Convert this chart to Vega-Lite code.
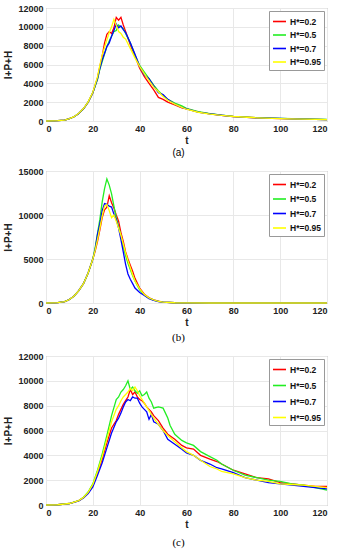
{
  "$schema": "https://vega.github.io/schema/vega-lite/v6.json",
  "padding": {"left": 3, "top": 3, "right": 4, "bottom": 0},
  "spacing": 7,
  "datasets": {
    "a": [
      {"s":"H*=0.2","t":0,"v":0},{"s":"H*=0.2","t":5,"v":30},{"s":"H*=0.2","t":8,"v":100},{"s":"H*=0.2","t":10,"v":250},{"s":"H*=0.2","t":12,"v":450},{"s":"H*=0.2","t":14,"v":800},{"s":"H*=0.2","t":16,"v":1300},{"s":"H*=0.2","t":18,"v":2000},{"s":"H*=0.2","t":20,"v":3000},{"s":"H*=0.2","t":22,"v":4600},{"s":"H*=0.2","t":23,"v":5800},{"s":"H*=0.2","t":24,"v":6900},{"s":"H*=0.2","t":25,"v":8300},{"s":"H*=0.2","t":26,"v":9200},{"s":"H*=0.2","t":27,"v":9500},{"s":"H*=0.2","t":28,"v":9300},{"s":"H*=0.2","t":29,"v":9900},{"s":"H*=0.2","t":30,"v":11000},{"s":"H*=0.2","t":31,"v":10700},{"s":"H*=0.2","t":32,"v":11000},{"s":"H*=0.2","t":33,"v":10200},{"s":"H*=0.2","t":34,"v":9500},{"s":"H*=0.2","t":36,"v":8100},{"s":"H*=0.2","t":38,"v":6900},{"s":"H*=0.2","t":40,"v":5600},{"s":"H*=0.2","t":42,"v":4700},{"s":"H*=0.2","t":44,"v":4000},{"s":"H*=0.2","t":46,"v":3300},{"s":"H*=0.2","t":48,"v":2500},{"s":"H*=0.2","t":50,"v":2300},{"s":"H*=0.2","t":52,"v":2000},{"s":"H*=0.2","t":55,"v":1700},{"s":"H*=0.2","t":58,"v":1400},{"s":"H*=0.2","t":60,"v":1300},{"s":"H*=0.2","t":65,"v":950},{"s":"H*=0.2","t":70,"v":750},{"s":"H*=0.2","t":75,"v":600},{"s":"H*=0.2","t":80,"v":480},{"s":"H*=0.2","t":90,"v":340},{"s":"H*=0.2","t":100,"v":260},{"s":"H*=0.2","t":110,"v":200},{"s":"H*=0.2","t":120,"v":150},
      {"s":"H*=0.5","t":0,"v":0},{"s":"H*=0.5","t":5,"v":30},{"s":"H*=0.5","t":8,"v":100},{"s":"H*=0.5","t":10,"v":250},{"s":"H*=0.5","t":12,"v":450},{"s":"H*=0.5","t":14,"v":800},{"s":"H*=0.5","t":16,"v":1300},{"s":"H*=0.5","t":18,"v":2000},{"s":"H*=0.5","t":20,"v":3000},{"s":"H*=0.5","t":22,"v":4400},{"s":"H*=0.5","t":23,"v":5500},{"s":"H*=0.5","t":24,"v":6300},{"s":"H*=0.5","t":25,"v":7100},{"s":"H*=0.5","t":26,"v":7900},{"s":"H*=0.5","t":27,"v":8500},{"s":"H*=0.5","t":28,"v":9000},{"s":"H*=0.5","t":29,"v":9500},{"s":"H*=0.5","t":30,"v":9600},{"s":"H*=0.5","t":31,"v":10200},{"s":"H*=0.5","t":32,"v":10000},{"s":"H*=0.5","t":33,"v":9800},{"s":"H*=0.5","t":34,"v":9300},{"s":"H*=0.5","t":36,"v":8300},{"s":"H*=0.5","t":38,"v":7000},{"s":"H*=0.5","t":40,"v":5900},{"s":"H*=0.5","t":42,"v":5200},{"s":"H*=0.5","t":44,"v":4500},{"s":"H*=0.5","t":46,"v":3800},{"s":"H*=0.5","t":48,"v":3200},{"s":"H*=0.5","t":50,"v":2700},{"s":"H*=0.5","t":52,"v":2300},{"s":"H*=0.5","t":55,"v":1900},{"s":"H*=0.5","t":58,"v":1600},{"s":"H*=0.5","t":60,"v":1350},{"s":"H*=0.5","t":65,"v":1000},{"s":"H*=0.5","t":70,"v":780},{"s":"H*=0.5","t":75,"v":620},{"s":"H*=0.5","t":80,"v":500},{"s":"H*=0.5","t":90,"v":350},{"s":"H*=0.5","t":100,"v":270},{"s":"H*=0.5","t":110,"v":210},{"s":"H*=0.5","t":120,"v":160},
      {"s":"H*=0.7","t":0,"v":0},{"s":"H*=0.7","t":5,"v":30},{"s":"H*=0.7","t":8,"v":100},{"s":"H*=0.7","t":10,"v":250},{"s":"H*=0.7","t":12,"v":450},{"s":"H*=0.7","t":14,"v":800},{"s":"H*=0.7","t":16,"v":1300},{"s":"H*=0.7","t":18,"v":2000},{"s":"H*=0.7","t":20,"v":3000},{"s":"H*=0.7","t":22,"v":4500},{"s":"H*=0.7","t":23,"v":5600},{"s":"H*=0.7","t":24,"v":6500},{"s":"H*=0.7","t":25,"v":7200},{"s":"H*=0.7","t":26,"v":7900},{"s":"H*=0.7","t":27,"v":8300},{"s":"H*=0.7","t":28,"v":9000},{"s":"H*=0.7","t":29,"v":9600},{"s":"H*=0.7","t":30,"v":10300},{"s":"H*=0.7","t":31,"v":9900},{"s":"H*=0.7","t":32,"v":10100},{"s":"H*=0.7","t":33,"v":9700},{"s":"H*=0.7","t":34,"v":9400},{"s":"H*=0.7","t":36,"v":8300},{"s":"H*=0.7","t":38,"v":7100},{"s":"H*=0.7","t":40,"v":5800},{"s":"H*=0.7","t":42,"v":4900},{"s":"H*=0.7","t":44,"v":4500},{"s":"H*=0.7","t":46,"v":3700},{"s":"H*=0.7","t":48,"v":3000},{"s":"H*=0.7","t":50,"v":2800},{"s":"H*=0.7","t":52,"v":2300},{"s":"H*=0.7","t":55,"v":1800},{"s":"H*=0.7","t":58,"v":1450},{"s":"H*=0.7","t":60,"v":1300},{"s":"H*=0.7","t":65,"v":950},{"s":"H*=0.7","t":70,"v":760},{"s":"H*=0.7","t":75,"v":610},{"s":"H*=0.7","t":80,"v":470},{"s":"H*=0.7","t":90,"v":330},{"s":"H*=0.7","t":100,"v":280},{"s":"H*=0.7","t":110,"v":200},{"s":"H*=0.7","t":120,"v":150},
      {"s":"H*=0.95","t":0,"v":0},{"s":"H*=0.95","t":5,"v":30},{"s":"H*=0.95","t":8,"v":100},{"s":"H*=0.95","t":10,"v":250},{"s":"H*=0.95","t":12,"v":460},{"s":"H*=0.95","t":14,"v":810},{"s":"H*=0.95","t":16,"v":1320},{"s":"H*=0.95","t":18,"v":2030},{"s":"H*=0.95","t":20,"v":3050},{"s":"H*=0.95","t":22,"v":4700},{"s":"H*=0.95","t":23,"v":5900},{"s":"H*=0.95","t":24,"v":7000},{"s":"H*=0.95","t":25,"v":7800},{"s":"H*=0.95","t":26,"v":8600},{"s":"H*=0.95","t":27,"v":9400},{"s":"H*=0.95","t":28,"v":10000},{"s":"H*=0.95","t":29,"v":10800},{"s":"H*=0.95","t":30,"v":10200},{"s":"H*=0.95","t":31,"v":9500},{"s":"H*=0.95","t":32,"v":9300},{"s":"H*=0.95","t":33,"v":8900},{"s":"H*=0.95","t":34,"v":8700},{"s":"H*=0.95","t":36,"v":7700},{"s":"H*=0.95","t":38,"v":6700},{"s":"H*=0.95","t":40,"v":5800},{"s":"H*=0.95","t":42,"v":5000},{"s":"H*=0.95","t":44,"v":4300},{"s":"H*=0.95","t":46,"v":3600},{"s":"H*=0.95","t":48,"v":3100},{"s":"H*=0.95","t":50,"v":2600},{"s":"H*=0.95","t":52,"v":2200},{"s":"H*=0.95","t":55,"v":1800},{"s":"H*=0.95","t":58,"v":1450},{"s":"H*=0.95","t":60,"v":1250},{"s":"H*=0.95","t":65,"v":930},{"s":"H*=0.95","t":70,"v":740},{"s":"H*=0.95","t":75,"v":600},{"s":"H*=0.95","t":80,"v":480},{"s":"H*=0.95","t":90,"v":340},{"s":"H*=0.95","t":100,"v":250},{"s":"H*=0.95","t":110,"v":190},{"s":"H*=0.95","t":120,"v":150}
    ],
    "b": [
      {"s":"H*=0.2","t":0,"v":0},{"s":"H*=0.2","t":5,"v":40},{"s":"H*=0.2","t":8,"v":150},{"s":"H*=0.2","t":10,"v":400},{"s":"H*=0.2","t":12,"v":800},{"s":"H*=0.2","t":14,"v":1400},{"s":"H*=0.2","t":16,"v":2200},{"s":"H*=0.2","t":18,"v":3400},{"s":"H*=0.2","t":20,"v":5000},{"s":"H*=0.2","t":21,"v":5900},{"s":"H*=0.2","t":22,"v":7000},{"s":"H*=0.2","t":23,"v":8300},{"s":"H*=0.2","t":24,"v":9700},{"s":"H*=0.2","t":25,"v":10600},{"s":"H*=0.2","t":26,"v":10900},{"s":"H*=0.2","t":27,"v":12200},{"s":"H*=0.2","t":28,"v":11400},{"s":"H*=0.2","t":29,"v":10800},{"s":"H*=0.2","t":30,"v":10000},{"s":"H*=0.2","t":31,"v":9300},{"s":"H*=0.2","t":32,"v":8000},{"s":"H*=0.2","t":33,"v":7000},{"s":"H*=0.2","t":34,"v":5800},{"s":"H*=0.2","t":35,"v":5000},{"s":"H*=0.2","t":36,"v":4300},{"s":"H*=0.2","t":37,"v":3600},{"s":"H*=0.2","t":38,"v":2800},{"s":"H*=0.2","t":40,"v":1700},{"s":"H*=0.2","t":42,"v":1000},{"s":"H*=0.2","t":44,"v":600},{"s":"H*=0.2","t":46,"v":350},{"s":"H*=0.2","t":48,"v":200},{"s":"H*=0.2","t":50,"v":110},{"s":"H*=0.2","t":55,"v":30},{"s":"H*=0.2","t":60,"v":8},{"s":"H*=0.2","t":70,"v":2},{"s":"H*=0.2","t":120,"v":0},
      {"s":"H*=0.5","t":0,"v":0},{"s":"H*=0.5","t":5,"v":40},{"s":"H*=0.5","t":8,"v":150},{"s":"H*=0.5","t":10,"v":400},{"s":"H*=0.5","t":12,"v":800},{"s":"H*=0.5","t":14,"v":1400},{"s":"H*=0.5","t":16,"v":2200},{"s":"H*=0.5","t":18,"v":3400},{"s":"H*=0.5","t":20,"v":5000},{"s":"H*=0.5","t":21,"v":6300},{"s":"H*=0.5","t":22,"v":7900},{"s":"H*=0.5","t":23,"v":9500},{"s":"H*=0.5","t":24,"v":11500},{"s":"H*=0.5","t":25,"v":13000},{"s":"H*=0.5","t":26,"v":14100},{"s":"H*=0.5","t":27,"v":13400},{"s":"H*=0.5","t":28,"v":12400},{"s":"H*=0.5","t":29,"v":11000},{"s":"H*=0.5","t":30,"v":9700},{"s":"H*=0.5","t":31,"v":8700},{"s":"H*=0.5","t":32,"v":7600},{"s":"H*=0.5","t":33,"v":6400},{"s":"H*=0.5","t":34,"v":5400},{"s":"H*=0.5","t":35,"v":4500},{"s":"H*=0.5","t":36,"v":3800},{"s":"H*=0.5","t":37,"v":3100},{"s":"H*=0.5","t":38,"v":2500},{"s":"H*=0.5","t":40,"v":1500},{"s":"H*=0.5","t":42,"v":900},{"s":"H*=0.5","t":44,"v":550},{"s":"H*=0.5","t":46,"v":330},{"s":"H*=0.5","t":48,"v":190},{"s":"H*=0.5","t":50,"v":100},{"s":"H*=0.5","t":55,"v":30},{"s":"H*=0.5","t":60,"v":8},{"s":"H*=0.5","t":70,"v":2},{"s":"H*=0.5","t":120,"v":0},
      {"s":"H*=0.7","t":0,"v":0},{"s":"H*=0.7","t":5,"v":40},{"s":"H*=0.7","t":8,"v":150},{"s":"H*=0.7","t":10,"v":400},{"s":"H*=0.7","t":12,"v":800},{"s":"H*=0.7","t":14,"v":1400},{"s":"H*=0.7","t":16,"v":2200},{"s":"H*=0.7","t":18,"v":3400},{"s":"H*=0.7","t":20,"v":5000},{"s":"H*=0.7","t":21,"v":6100},{"s":"H*=0.7","t":22,"v":7800},{"s":"H*=0.7","t":23,"v":9000},{"s":"H*=0.7","t":24,"v":10500},{"s":"H*=0.7","t":25,"v":11300},{"s":"H*=0.7","t":26,"v":11200},{"s":"H*=0.7","t":27,"v":11000},{"s":"H*=0.7","t":28,"v":10900},{"s":"H*=0.7","t":29,"v":10100},{"s":"H*=0.7","t":30,"v":9500},{"s":"H*=0.7","t":31,"v":8500},{"s":"H*=0.7","t":32,"v":7200},{"s":"H*=0.7","t":33,"v":5800},{"s":"H*=0.7","t":34,"v":4400},{"s":"H*=0.7","t":35,"v":3300},{"s":"H*=0.7","t":36,"v":2700},{"s":"H*=0.7","t":37,"v":2200},{"s":"H*=0.7","t":38,"v":1700},{"s":"H*=0.7","t":40,"v":1200},{"s":"H*=0.7","t":42,"v":850},{"s":"H*=0.7","t":44,"v":500},{"s":"H*=0.7","t":46,"v":300},{"s":"H*=0.7","t":48,"v":170},{"s":"H*=0.7","t":50,"v":90},{"s":"H*=0.7","t":55,"v":30},{"s":"H*=0.7","t":60,"v":8},{"s":"H*=0.7","t":70,"v":2},{"s":"H*=0.7","t":120,"v":0},
      {"s":"H*=0.95","t":0,"v":0},{"s":"H*=0.95","t":5,"v":40},{"s":"H*=0.95","t":8,"v":150},{"s":"H*=0.95","t":10,"v":400},{"s":"H*=0.95","t":12,"v":800},{"s":"H*=0.95","t":14,"v":1400},{"s":"H*=0.95","t":16,"v":2200},{"s":"H*=0.95","t":18,"v":3400},{"s":"H*=0.95","t":20,"v":5000},{"s":"H*=0.95","t":21,"v":6000},{"s":"H*=0.95","t":22,"v":7200},{"s":"H*=0.95","t":23,"v":8500},{"s":"H*=0.95","t":24,"v":9900},{"s":"H*=0.95","t":25,"v":11000},{"s":"H*=0.95","t":26,"v":11200},{"s":"H*=0.95","t":27,"v":10500},{"s":"H*=0.95","t":28,"v":9700},{"s":"H*=0.95","t":29,"v":10000},{"s":"H*=0.95","t":30,"v":9300},{"s":"H*=0.95","t":31,"v":8500},{"s":"H*=0.95","t":32,"v":7700},{"s":"H*=0.95","t":33,"v":6700},{"s":"H*=0.95","t":34,"v":5700},{"s":"H*=0.95","t":35,"v":4800},{"s":"H*=0.95","t":36,"v":4000},{"s":"H*=0.95","t":37,"v":3200},{"s":"H*=0.95","t":38,"v":2500},{"s":"H*=0.95","t":40,"v":1600},{"s":"H*=0.95","t":42,"v":950},{"s":"H*=0.95","t":44,"v":570},{"s":"H*=0.95","t":46,"v":340},{"s":"H*=0.95","t":48,"v":190},{"s":"H*=0.95","t":50,"v":100},{"s":"H*=0.95","t":55,"v":30},{"s":"H*=0.95","t":60,"v":8},{"s":"H*=0.95","t":70,"v":2},{"s":"H*=0.95","t":120,"v":0}
    ],
    "c": [
      {"s":"H*=0.2","t":0,"v":0},{"s":"H*=0.2","t":5,"v":20},{"s":"H*=0.2","t":10,"v":120},{"s":"H*=0.2","t":14,"v":350},{"s":"H*=0.2","t":16,"v":600},{"s":"H*=0.2","t":18,"v":1000},{"s":"H*=0.2","t":20,"v":1600},{"s":"H*=0.2","t":22,"v":2600},{"s":"H*=0.2","t":24,"v":3700},{"s":"H*=0.2","t":26,"v":5000},{"s":"H*=0.2","t":28,"v":6200},{"s":"H*=0.2","t":30,"v":6800},{"s":"H*=0.2","t":31,"v":7300},{"s":"H*=0.2","t":32,"v":7700},{"s":"H*=0.2","t":33,"v":8100},{"s":"H*=0.2","t":34,"v":8400},{"s":"H*=0.2","t":35,"v":8700},{"s":"H*=0.2","t":36,"v":9300},{"s":"H*=0.2","t":37,"v":8900},{"s":"H*=0.2","t":38,"v":9100},{"s":"H*=0.2","t":39,"v":8700},{"s":"H*=0.2","t":40,"v":8500},{"s":"H*=0.2","t":41,"v":8400},{"s":"H*=0.2","t":42,"v":8200},{"s":"H*=0.2","t":43,"v":7900},{"s":"H*=0.2","t":44,"v":7700},{"s":"H*=0.2","t":45,"v":7500},{"s":"H*=0.2","t":46,"v":7200},{"s":"H*=0.2","t":48,"v":6800},{"s":"H*=0.2","t":50,"v":6200},{"s":"H*=0.2","t":52,"v":5700},{"s":"H*=0.2","t":55,"v":5300},{"s":"H*=0.2","t":58,"v":4800},{"s":"H*=0.2","t":60,"v":4600},{"s":"H*=0.2","t":63,"v":4500},{"s":"H*=0.2","t":66,"v":4000},{"s":"H*=0.2","t":70,"v":3700},{"s":"H*=0.2","t":73,"v":3500},{"s":"H*=0.2","t":75,"v":3300},{"s":"H*=0.2","t":80,"v":2800},{"s":"H*=0.2","t":85,"v":2500},{"s":"H*=0.2","t":90,"v":2200},{"s":"H*=0.2","t":95,"v":2100},{"s":"H*=0.2","t":100,"v":1800},{"s":"H*=0.2","t":105,"v":1700},{"s":"H*=0.2","t":110,"v":1600},{"s":"H*=0.2","t":115,"v":1500},{"s":"H*=0.2","t":120,"v":1500},
      {"s":"H*=0.5","t":0,"v":0},{"s":"H*=0.5","t":5,"v":20},{"s":"H*=0.5","t":10,"v":120},{"s":"H*=0.5","t":14,"v":350},{"s":"H*=0.5","t":16,"v":620},{"s":"H*=0.5","t":18,"v":1050},{"s":"H*=0.5","t":20,"v":1700},{"s":"H*=0.5","t":22,"v":2800},{"s":"H*=0.5","t":24,"v":4100},{"s":"H*=0.5","t":26,"v":5600},{"s":"H*=0.5","t":28,"v":7200},{"s":"H*=0.5","t":30,"v":8500},{"s":"H*=0.5","t":31,"v":8700},{"s":"H*=0.5","t":32,"v":9100},{"s":"H*=0.5","t":33,"v":9300},{"s":"H*=0.5","t":34,"v":9600},{"s":"H*=0.5","t":35,"v":10000},{"s":"H*=0.5","t":36,"v":9300},{"s":"H*=0.5","t":37,"v":9500},{"s":"H*=0.5","t":38,"v":9200},{"s":"H*=0.5","t":39,"v":9000},{"s":"H*=0.5","t":40,"v":9200},{"s":"H*=0.5","t":41,"v":8800},{"s":"H*=0.5","t":42,"v":8900},{"s":"H*=0.5","t":43,"v":9100},{"s":"H*=0.5","t":44,"v":8600},{"s":"H*=0.5","t":45,"v":8300},{"s":"H*=0.5","t":46,"v":7800},{"s":"H*=0.5","t":48,"v":7900},{"s":"H*=0.5","t":50,"v":7800},{"s":"H*=0.5","t":52,"v":7000},{"s":"H*=0.5","t":53,"v":6400},{"s":"H*=0.5","t":55,"v":5700},{"s":"H*=0.5","t":58,"v":5200},{"s":"H*=0.5","t":60,"v":5000},{"s":"H*=0.5","t":63,"v":4800},{"s":"H*=0.5","t":66,"v":4300},{"s":"H*=0.5","t":70,"v":3900},{"s":"H*=0.5","t":73,"v":3600},{"s":"H*=0.5","t":75,"v":3300},{"s":"H*=0.5","t":80,"v":2800},{"s":"H*=0.5","t":85,"v":2400},{"s":"H*=0.5","t":90,"v":2200},{"s":"H*=0.5","t":95,"v":2000},{"s":"H*=0.5","t":100,"v":1900},{"s":"H*=0.5","t":105,"v":1700},{"s":"H*=0.5","t":110,"v":1600},{"s":"H*=0.5","t":115,"v":1400},{"s":"H*=0.5","t":120,"v":1200},
      {"s":"H*=0.7","t":0,"v":0},{"s":"H*=0.7","t":5,"v":20},{"s":"H*=0.7","t":10,"v":110},{"s":"H*=0.7","t":14,"v":330},{"s":"H*=0.7","t":16,"v":560},{"s":"H*=0.7","t":18,"v":930},{"s":"H*=0.7","t":20,"v":1450},{"s":"H*=0.7","t":22,"v":2400},{"s":"H*=0.7","t":24,"v":3400},{"s":"H*=0.7","t":26,"v":4600},{"s":"H*=0.7","t":28,"v":5800},{"s":"H*=0.7","t":30,"v":6700},{"s":"H*=0.7","t":31,"v":7000},{"s":"H*=0.7","t":32,"v":7400},{"s":"H*=0.7","t":33,"v":7900},{"s":"H*=0.7","t":34,"v":8300},{"s":"H*=0.7","t":35,"v":8500},{"s":"H*=0.7","t":36,"v":8400},{"s":"H*=0.7","t":37,"v":8700},{"s":"H*=0.7","t":38,"v":8600},{"s":"H*=0.7","t":39,"v":8600},{"s":"H*=0.7","t":40,"v":8200},{"s":"H*=0.7","t":41,"v":7900},{"s":"H*=0.7","t":42,"v":7700},{"s":"H*=0.7","t":43,"v":7500},{"s":"H*=0.7","t":44,"v":6900},{"s":"H*=0.7","t":45,"v":7300},{"s":"H*=0.7","t":46,"v":6700},{"s":"H*=0.7","t":48,"v":6500},{"s":"H*=0.7","t":50,"v":6000},{"s":"H*=0.7","t":52,"v":5300},{"s":"H*=0.7","t":55,"v":4900},{"s":"H*=0.7","t":58,"v":4500},{"s":"H*=0.7","t":60,"v":4200},{"s":"H*=0.7","t":63,"v":4000},{"s":"H*=0.7","t":66,"v":3600},{"s":"H*=0.7","t":70,"v":3300},{"s":"H*=0.7","t":73,"v":3000},{"s":"H*=0.7","t":75,"v":2900},{"s":"H*=0.7","t":80,"v":2600},{"s":"H*=0.7","t":85,"v":2200},{"s":"H*=0.7","t":90,"v":2000},{"s":"H*=0.7","t":95,"v":1800},{"s":"H*=0.7","t":100,"v":1700},{"s":"H*=0.7","t":105,"v":1600},{"s":"H*=0.7","t":110,"v":1500},{"s":"H*=0.7","t":115,"v":1400},{"s":"H*=0.7","t":120,"v":1300},
      {"s":"H*=0.95","t":0,"v":0},{"s":"H*=0.95","t":5,"v":20},{"s":"H*=0.95","t":10,"v":120},{"s":"H*=0.95","t":14,"v":350},{"s":"H*=0.95","t":16,"v":610},{"s":"H*=0.95","t":18,"v":1020},{"s":"H*=0.95","t":20,"v":1650},{"s":"H*=0.95","t":22,"v":2700},{"s":"H*=0.95","t":24,"v":3900},{"s":"H*=0.95","t":26,"v":5300},{"s":"H*=0.95","t":28,"v":6700},{"s":"H*=0.95","t":30,"v":7700},{"s":"H*=0.95","t":31,"v":8000},{"s":"H*=0.95","t":32,"v":8400},{"s":"H*=0.95","t":33,"v":8700},{"s":"H*=0.95","t":34,"v":8900},{"s":"H*=0.95","t":35,"v":9100},{"s":"H*=0.95","t":36,"v":9400},{"s":"H*=0.95","t":37,"v":9200},{"s":"H*=0.95","t":38,"v":9500},{"s":"H*=0.95","t":39,"v":9200},{"s":"H*=0.95","t":40,"v":8800},{"s":"H*=0.95","t":41,"v":8500},{"s":"H*=0.95","t":42,"v":8200},{"s":"H*=0.95","t":43,"v":7900},{"s":"H*=0.95","t":44,"v":7600},{"s":"H*=0.95","t":45,"v":7300},{"s":"H*=0.95","t":46,"v":7000},{"s":"H*=0.95","t":48,"v":6500},{"s":"H*=0.95","t":50,"v":6000},{"s":"H*=0.95","t":52,"v":5600},{"s":"H*=0.95","t":55,"v":5100},{"s":"H*=0.95","t":58,"v":4600},{"s":"H*=0.95","t":60,"v":4300},{"s":"H*=0.95","t":63,"v":4000},{"s":"H*=0.95","t":66,"v":3600},{"s":"H*=0.95","t":70,"v":3100},{"s":"H*=0.95","t":73,"v":2900},{"s":"H*=0.95","t":75,"v":2700},{"s":"H*=0.95","t":80,"v":2500},{"s":"H*=0.95","t":85,"v":2200},{"s":"H*=0.95","t":90,"v":2000},{"s":"H*=0.95","t":95,"v":1900},{"s":"H*=0.95","t":100,"v":1700},{"s":"H*=0.95","t":105,"v":1650},{"s":"H*=0.95","t":110,"v":1600},{"s":"H*=0.95","t":115,"v":1500},{"s":"H*=0.95","t":120,"v":1400}
    ]
  },
  "vconcat": [
    {
      "width": 281, "height": 113,
      "data": {"name": "a"},
      "title": {"text": "(a)", "orient": "bottom", "font": "Liberation Sans", "fontSize": 10, "fontWeight": "normal", "offset": 3, "dx": -8},
      "mark": {"type": "line", "strokeWidth": 1.3},
      "encoding": {
        "x": {"field": "t", "type": "quantitative", "scale": {"domain": [0, 120], "nice": false}, "axis": {"values": [0, 20, 40, 60, 80, 100, 120], "title": "t"}},
        "y": {"field": "v", "type": "quantitative", "scale": {"domain": [0, 12000], "nice": false}, "axis": {"values": [0, 2000, 4000, 6000, 8000, 10000, 12000], "title": "I+P+H", "format": "d"}},
        "color": {"field": "s", "type": "nominal", "scale": {"domain": ["H*=0.2", "H*=0.5", "H*=0.7", "H*=0.95"], "range": ["#ff0000", "#22ee22", "#0000ff", "#ffff00"]}, "legend": {"rowPadding": 1.5}}
      }
    },
    {
      "width": 281, "height": 132,
      "data": {"name": "b"},
      "title": {"text": "(b)", "orient": "bottom", "font": "Liberation Serif", "fontSize": 11, "fontWeight": "normal", "offset": 5, "dx": -8},
      "mark": {"type": "line", "strokeWidth": 1.3},
      "encoding": {
        "x": {"field": "t", "type": "quantitative", "scale": {"domain": [0, 120], "nice": false}, "axis": {"values": [0, 20, 40, 60, 80, 100, 120], "title": "t"}},
        "y": {"field": "v", "type": "quantitative", "scale": {"domain": [0, 15000], "nice": false}, "axis": {"values": [0, 5000, 10000, 15000], "title": "I+P+H", "format": "d"}},
        "color": {"field": "s", "type": "nominal", "scale": {"domain": ["H*=0.2", "H*=0.5", "H*=0.7", "H*=0.95"], "range": ["#ff0000", "#22ee22", "#0000ff", "#ffff00"]}, "legend": {"rowPadding": 2.5}}
      }
    },
    {
      "width": 281, "height": 149,
      "data": {"name": "c"},
      "title": {"text": "(c)", "orient": "bottom", "font": "Liberation Serif", "fontSize": 11, "fontWeight": "normal", "offset": 8, "dx": -8},
      "mark": {"type": "line", "strokeWidth": 1.3},
      "encoding": {
        "x": {"field": "t", "type": "quantitative", "scale": {"domain": [0, 120], "nice": false}, "axis": {"values": [0, 20, 40, 60, 80, 100, 120], "title": "t"}},
        "y": {"field": "v", "type": "quantitative", "scale": {"domain": [0, 12000], "nice": false}, "axis": {"values": [0, 2000, 4000, 6000, 8000, 10000, 12000], "title": "I+P+H", "format": "d"}},
        "color": {"field": "s", "type": "nominal", "scale": {"domain": ["H*=0.2", "H*=0.5", "H*=0.7", "H*=0.95"], "range": ["#ff0000", "#22ee22", "#0000ff", "#ffff00"]}, "legend": {"rowPadding": 4}}
      }
    }
  ],
  "resolve": {"scale": {"color": "independent"}, "legend": {"color": "independent"}},
  "config": {
    "view": {"stroke": "#999999", "strokeWidth": 1},
    "axis": {"grid": true, "gridColor": "#e8e8e8", "domain": false, "ticks": false, "labelFont": "Liberation Sans", "labelFontWeight": "bold", "labelFontSize": 9, "labelColor": "#222222", "labelPadding": 3, "titleFont": "Liberation Sans", "titleFontWeight": "bold", "titleFontSize": 10, "titleColor": "#222222", "titlePadding": 2},
    "axisY": {"titlePadding": 4},
    "legend": {"orient": "top-right", "offset": 3, "title": null, "fillColor": "white", "strokeColor": "#999999", "padding": 3, "labelFont": "Liberation Sans", "labelFontWeight": "bold", "labelFontSize": 8.5, "labelColor": "#111111", "symbolType": "stroke", "symbolSize": 170, "symbolStrokeWidth": 1.6, "labelOffset": 3}
  }
}
